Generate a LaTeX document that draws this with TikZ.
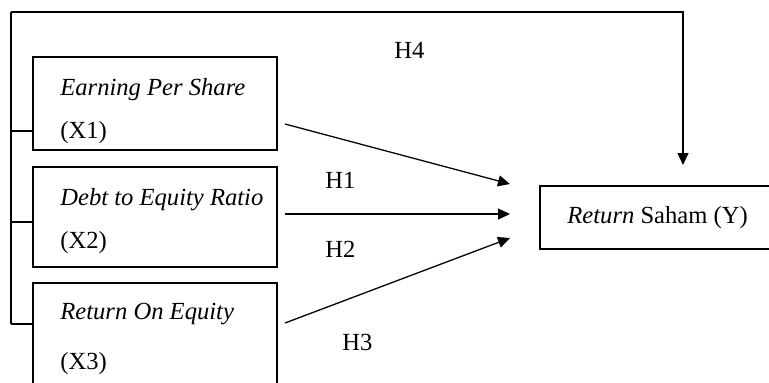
\documentclass[tikz,border=0pt]{standalone}
\usepackage{fontspec}
\setmainfont{Liberation Serif}
\usetikzlibrary{positioning, arrows.meta}

\begin{document}
\begin{tikzpicture}[x=0.5pt, y=-0.5pt,
  every node/.style={font=\fontsize{12.3}{14}\selectfont},
  box/.style={rectangle, draw, line width=0.65pt, minimum width=122pt, inner sep=0pt},
  lbl/.style={anchor=base west, inner sep=0pt},
  arr/.style={-{Triangle[length=6pt, width=5.5pt]}, line width=0.65pt},
  wire/.style={line width=0.65pt}
]
\useasboundingbox (0,0) rectangle (769,382);
\clip (0,0) rectangle (769,382);

% variable boxes
\node[box, minimum height=46.5pt] (eps) at (155,103.5) {};
\node[box, minimum height=50pt]   (der) at (155,217)   {};
\node[box, minimum height=68.5pt] (roe) at (155,351.5) {};
\node[box, minimum width=140pt, minimum height=31.5pt] (ret) at (680,217.5) {};

\node[lbl] (epsName) at (60,95)  {\textit{Earning Per Share}};
\node[lbl] (epsVar)  at (60,138) {(X1)};
\node[lbl] (derName) at (60,205) {\textit{Debt to Equity Ratio}};
\node[lbl] (derVar)  at (60,248) {(X2)};
\node[lbl] (roeName) at (60,319) {\textit{Return On Equity}};
\node[lbl] (roeVar)  at (60,369) {(X3)};
\node[lbl] (retName) at (567,223) {\textit{Return} Saham (Y)};

% hypothesis labels
\node[lbl] (h1) at (325,188) {H1};
\node[lbl] (h2) at (325,257) {H2};
\node[lbl] (h3) at (342,350) {H3};
\node[lbl] (h4) at (394,58)  {H4};

% partial paths
\coordinate (epsOut) at (285,124);
\coordinate (derOut) at (285,214);
\coordinate (roeOut) at (285,323);
\coordinate (epsIn)  at (510,184);
\coordinate (derIn)  at (510,214);
\coordinate (roeIn)  at (510,238);
\draw[arr] (epsOut) -- (epsIn);
\draw[arr] (derOut) -- (derIn);
\draw[arr] (roeOut) -- (roeIn);

% simultaneous path
\coordinate (busTop) at (11,12);
\coordinate (busBot) at (11,324);
\coordinate (tickA)  at (11,131);
\coordinate (tickB)  at (11,222);
\coordinate (retIn)  at (683,165);
\draw[wire] (busTop) -- (busBot);
\draw[wire] (tickA) -- (tickA -| eps.west);
\draw[wire] (tickB) -- (tickB -| der.west);
\draw[wire] (busBot) -- (busBot -| roe.west);
\draw[arr] (busTop) -| (retIn);
\end{tikzpicture}
\end{document}
